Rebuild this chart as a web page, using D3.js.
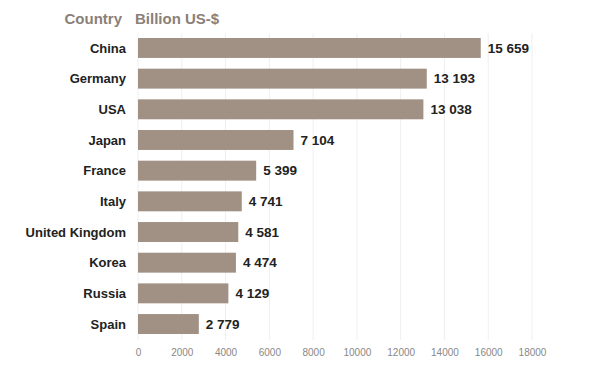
<!DOCTYPE html>
<html><head><meta charset="utf-8">
<script src="https://cdn.jsdelivr.net/npm/d3@7"></script>
<style>body{margin:0;background:#fff;}svg{display:block;font-family:"Liberation Sans",Arial,sans-serif;}</style>
</head><body>
<svg id="c" width="599" height="369"></svg>
<script>
const countries = ["China","Germany","USA","Japan","France","Italy","United Kingdom","Korea","Russia","Spain"];
const values = [15659,13193,13038,7104,5399,4741,4581,4474,4129,2779];
const valueLabels = ["15 659","13 193","13 038","7 104","5 399","4 741","4 581","4 474","4 129","2 779"];
const ticks = [0,2000,4000,6000,8000,10000,12000,14000,16000,18000];

const svg = d3.select("#c");
const x = d3.scaleLinear().domain([0,18000]).range([138,532]);
const y = d3.scaleBand().domain(countries).range([38,334]).paddingInner(0.35).paddingOuter(0);

svg.append("g").selectAll("line").data(ticks).join("line")
  .attr("x1",d=>x(d)).attr("x2",d=>x(d)).attr("y1",33).attr("y2",340)
  .attr("stroke","#efefef").attr("stroke-width",1);

svg.append("g").selectAll("rect").data(countries).join("rect")
  .attr("x",x(0)).attr("y",d=>y(d)).attr("height",y.bandwidth())
  .attr("width",(d,i)=>x(values[i])-x(0)).attr("fill","#a19185");

svg.append("g").selectAll("text").data(countries).join("text")
  .attr("x",126).attr("y",d=>y(d)+y.bandwidth()/2).attr("dy","0.35em")
  .attr("text-anchor","end").attr("font-size",13).attr("font-weight","bold").attr("fill","#222")
  .text(d=>d);

svg.append("g").selectAll("text").data(countries).join("text")
  .attr("x",(d,i)=>x(values[i])+7).attr("y",d=>y(d)+y.bandwidth()/2).attr("dy","0.35em")
  .attr("font-size",13.5).attr("font-weight","bold").attr("fill","#222")
  .text((d,i)=>valueLabels[i]);

const ax = svg.append("g").attr("transform","translate(0,349)")
  .call(d3.axisBottom(x).tickValues(ticks).tickFormat(d=>String(d)).tickSize(0).tickPadding(0));
ax.select(".domain").remove();
ax.selectAll("text").attr("font-size",10).attr("fill","#888").attr("font-family","Liberation Sans, Arial, sans-serif");

svg.append("text").attr("x",122).attr("y",24).attr("text-anchor","end")
  .attr("font-size",15).attr("font-weight","bold").attr("fill","#8a8079").text("Country");
svg.append("text").attr("x",135).attr("y",24)
  .attr("font-size",15).attr("font-weight","bold").attr("fill","#8a8079").text("Billion US-$");
</script>
</body></html>
